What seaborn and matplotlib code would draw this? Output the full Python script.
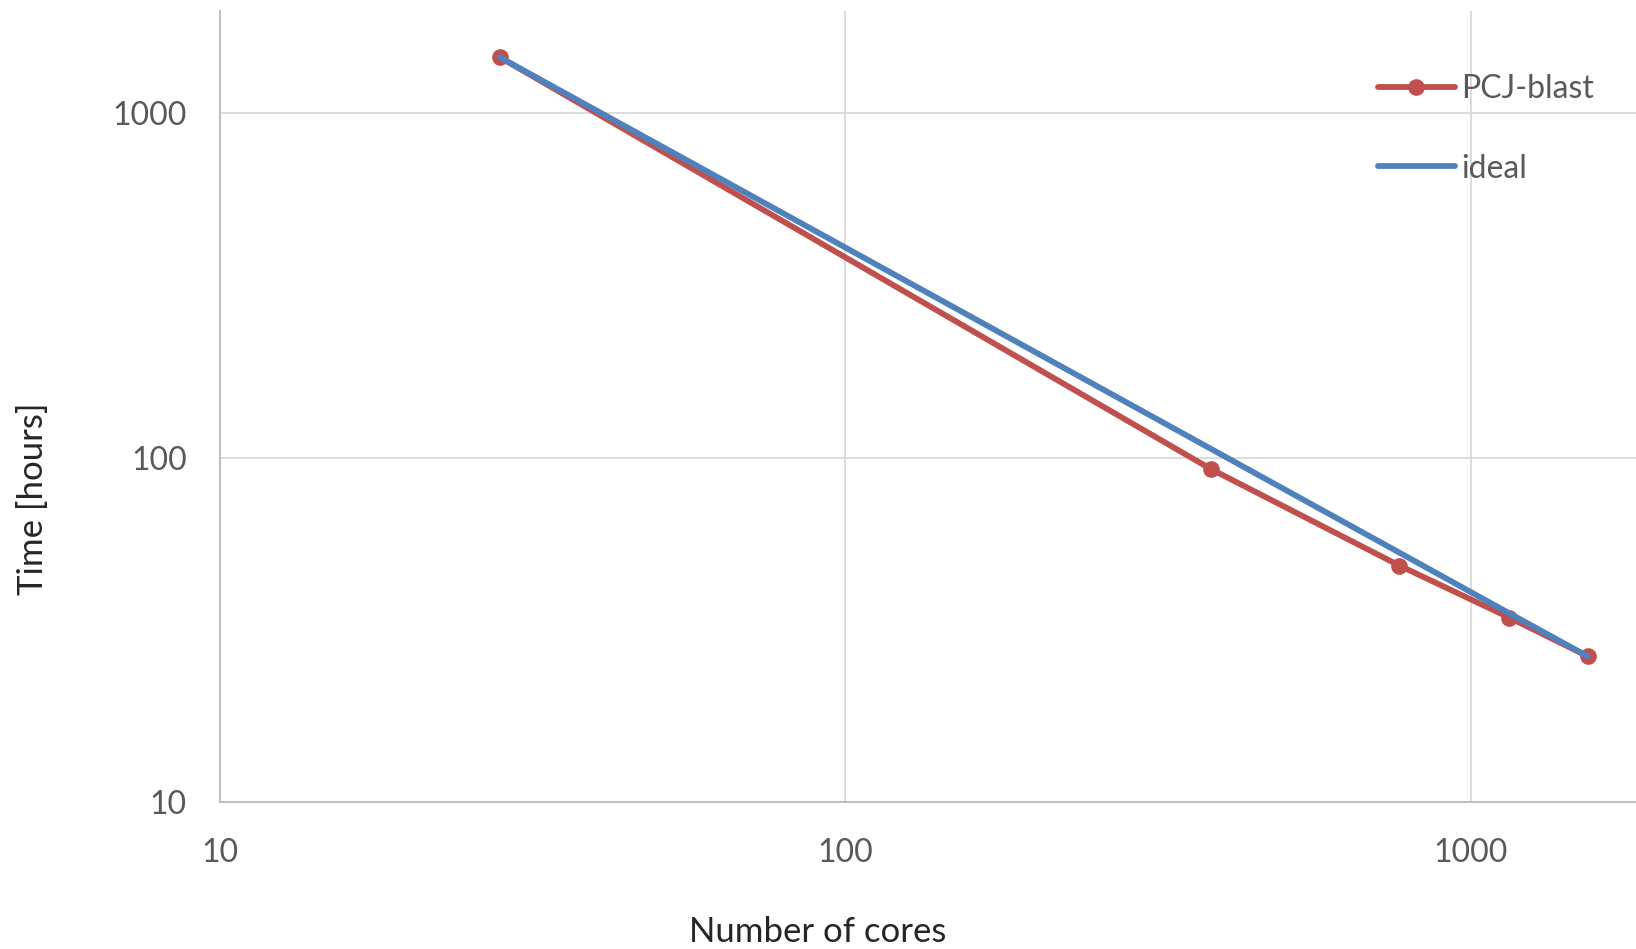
import matplotlib.pyplot as plt
import seaborn as sns
import pandas as pd

cores = [28, 384, 768, 1152, 1536]
pcj_blast = [1454, 92.6, 48.6, 34.3, 26.5]
ideal = [1454, 106.0, 53.0, 35.3, 26.5]

RED = '#C0504D'
BLUE = '#4F81BD'
TEXT = '#595959'

sns.set_theme(style='white')
plt.rcParams['font.family'] = ['Lato', 'DejaVu Sans']

df = pd.DataFrame({'cores': cores, 'PCJ-blast': pcj_blast, 'ideal': ideal})

fig = plt.figure(figsize=(16.36, 9.49), dpi=100)
ax = fig.add_axes([220 / 1636, 1 - 802 / 949, 1 - 220 / 1636, (802 - 11) / 949])

sns.lineplot(data=df, x='cores', y='PCJ-blast', ax=ax, color=RED,
             linewidth=4.2, marker='o', markersize=12, markeredgewidth=0,
             label='PCJ-blast')
sns.lineplot(data=df, x='cores', y='ideal', ax=ax, color=BLUE,
             linewidth=4.2, label='ideal')

ax.set_xscale('log')
ax.set_yscale('log')
ax.set_xlim(10, 1836)
ax.set_ylim(10, 1980)
ax.set_xticks([10, 100, 1000])
ax.set_xticklabels(['10', '100', '1000'])
ax.set_yticks([10, 100, 1000])
ax.set_yticklabels(['10', '100', '1000'])
ax.minorticks_off()
ax.tick_params(axis='both', length=0, labelsize=23, colors=TEXT)
ax.tick_params(axis='x', pad=26)
ax.tick_params(axis='y', pad=24)

ax.grid(True, color='#D9D9D9', linewidth=1.3)
for side in ['top', 'right']:
    ax.spines[side].set_visible(False)
for side in ['left', 'bottom']:
    ax.spines[side].set_color('#BFBFBF')
    ax.spines[side].set_linewidth(1.5)

ax.set_xlabel('')
ax.set_ylabel('')
fig.text(818 / 1636, 1 - 932 / 949, 'Number of cores', ha='center',
         va='center', fontsize=25, color='#262626')
fig.text(33 / 1636, 1 - 499 / 949, 'Time [hours]', ha='center',
         va='center', rotation=90, fontsize=25, color='#262626')

leg = ax.legend(loc='upper left', bbox_to_anchor=(1378 / 1636, 1 - 74 / 949),
                bbox_transform=fig.transFigure, frameon=False, fontsize=23,
                handlelength=2.4, handletextpad=0.2, labelspacing=1.55,
                borderaxespad=0, borderpad=0)
for t in leg.get_texts():
    t.set_color(TEXT)

fig.savefig('out.png', dpi=100)
